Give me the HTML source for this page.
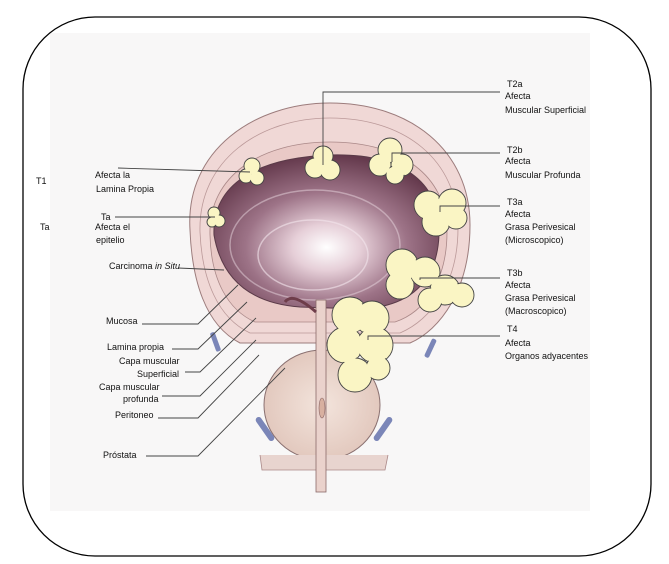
<!DOCTYPE html>
<html><head><meta charset="utf-8"><style>
html,body{margin:0;padding:0;background:#fff;}
svg{display:block;font-family:"Liberation Sans",Arial,sans-serif;}
text{font-size:9px;fill:#111;}
</style></head><body>
<svg width="669" height="564" viewBox="0 0 669 564" xmlns="http://www.w3.org/2000/svg">
<defs>
<radialGradient id="lum" cx="0.5" cy="0.6" r="0.6">
<stop offset="0" stop-color="#fff"/><stop offset="0.25" stop-color="#e6cfd8"/><stop offset="0.6" stop-color="#9d7387"/><stop offset="1" stop-color="#64394c"/>
</radialGradient>
<radialGradient id="pro" cx="0.5" cy="0.5" r="0.6">
<stop offset="0" stop-color="#f3e4dc"/><stop offset="1" stop-color="#dfc3b8"/>
</radialGradient>
</defs>
<rect x="50" y="33" width="540" height="478" fill="#f8f7f7"/>
<rect x="23" y="17" width="628" height="539" rx="72" ry="72" fill="none" stroke="#000" stroke-width="1.3"/>
<!-- bladder wall -->
<path d="M190,230 C185,150 255,103 330,103 C410,103 470,150 470,225 C470,290 440,330 410,343 L240,343 C205,325 192,280 190,230 Z" fill="#f0d8d6" stroke="#9c7c7c" stroke-width="1"/>
<path d="M200,232 C198,160 260,118 330,118 C405,118 458,160 458,228 C458,285 430,320 400,333 L250,333 C218,318 202,280 200,232 Z" fill="none" stroke="#b99" stroke-width="0.8"/>
<path d="M210,235 C208,175 262,142 330,142 C400,142 447,175 447,232 C447,280 425,312 395,322 L255,322 C228,310 211,280 210,235 Z" fill="#e9c9c6" stroke="#a88" stroke-width="0.8"/>
<!-- lumen -->
<path d="M214,235 C212,185 255,158 330,155 C400,153 441,180 439,235 C437,282 410,307 360,309 L300,307 C260,304 223,287 214,235 Z" fill="url(#lum)" stroke="#5a3a48" stroke-width="1"/>
<ellipse cx="313" cy="255" rx="55" ry="35" fill="none" stroke="#f3e6ec" stroke-width="1.5" opacity="0.6"/>
<ellipse cx="315" cy="245" rx="85" ry="55" fill="none" stroke="#e8d6de" stroke-width="1.5" opacity="0.5"/>
<!-- prostate -->
<ellipse cx="322" cy="405" rx="58" ry="55" fill="url(#pro)" stroke="#8a7070" stroke-width="1"/>
<path d="M260,455 L262,470 L385,470 L388,455" fill="#e8d4cf" stroke="#a88" stroke-width="0.8"/>
<rect x="316" y="300" width="10" height="192" fill="#ead2cc" stroke="#8a6a6a" stroke-width="0.8"/>
<ellipse cx="322" cy="408" rx="3" ry="10" fill="#d8b0a0" stroke="#866" stroke-width="0.6"/>
<path d="M285,302 C290,295 300,298 316,312" fill="none" stroke="#6e3d4a" stroke-width="3"/>
<!-- vessels -->
<rect x="213" y="332" width="5" height="20" rx="2" fill="#7b86b8" transform="rotate(-20 215 342)"/>
<rect x="428" y="338" width="5" height="20" rx="2" fill="#7b86b8" transform="rotate(25 430 348)"/>
<rect x="262" y="415" width="6" height="28" rx="3" fill="#7b86b8" transform="rotate(-35 265 429)"/>
<rect x="380" y="415" width="6" height="28" rx="3" fill="#7b86b8" transform="rotate(35 383 429)"/>
<!-- tumors -->
<g fill="#faf5c4" stroke="#444" stroke-width="0.9">
<circle cx="252" cy="166" r="8"/><circle cx="246" cy="176" r="7"/><circle cx="257" cy="178" r="7"/>
<circle cx="214" cy="213" r="6"/><circle cx="219" cy="221" r="6"/><circle cx="212" cy="222" r="5"/>
<circle cx="323" cy="156" r="10"/><circle cx="315" cy="168" r="10"/><circle cx="330" cy="170" r="10"/>
<circle cx="390" cy="150" r="12"/><circle cx="380" cy="165" r="11"/><circle cx="402" cy="165" r="11"/><circle cx="395" cy="175" r="9"/>
<circle cx="428" cy="205" r="14"/><circle cx="452" cy="203" r="14"/><circle cx="436" cy="222" r="14"/><circle cx="456" cy="218" r="11"/>
<circle cx="402" cy="265" r="16"/><circle cx="400" cy="285" r="14"/><circle cx="425" cy="272" r="15"/><circle cx="445" cy="290" r="15"/><circle cx="462" cy="295" r="12"/><circle cx="430" cy="300" r="12"/>
<circle cx="350" cy="315" r="18"/><circle cx="372" cy="318" r="17"/><circle cx="345" cy="345" r="18"/><circle cx="375" cy="345" r="18"/><circle cx="355" cy="375" r="17"/><circle cx="378" cy="368" r="12"/>
</g>
<g fill="#faf5c4">
<circle cx="252" cy="167" r="7"/><circle cx="246" cy="176" r="6"/><circle cx="257" cy="178" r="6"/>
<circle cx="214" cy="214" r="5"/><circle cx="219" cy="221" r="5"/><circle cx="212" cy="222" r="4"/>
<circle cx="323" cy="157" r="9"/><circle cx="315" cy="168" r="9"/><circle cx="330" cy="170" r="9"/>
<circle cx="390" cy="151" r="11"/><circle cx="380" cy="165" r="10"/><circle cx="402" cy="165" r="10"/><circle cx="395" cy="175" r="8"/>
<circle cx="428" cy="206" r="13"/><circle cx="452" cy="204" r="13"/><circle cx="436" cy="222" r="13"/><circle cx="456" cy="218" r="10"/>
<circle cx="402" cy="266" r="15"/><circle cx="400" cy="285" r="13"/><circle cx="425" cy="272" r="14"/><circle cx="445" cy="290" r="14"/><circle cx="462" cy="295" r="11"/><circle cx="430" cy="300" r="11"/>
<circle cx="350" cy="316" r="17"/><circle cx="372" cy="318" r="16"/><circle cx="345" cy="345" r="17"/><circle cx="375" cy="345" r="17"/><circle cx="355" cy="375" r="16"/><circle cx="378" cy="368" r="11"/>
</g>
<!-- leader lines -->
<g fill="none" stroke="#444" stroke-width="0.9">
<path d="M118,168 L250,172"/><path d="M115,217 L215,217"/><path d="M178,268 L224,270"/>
<path d="M142,324 L198,324 L238,285"/><path d="M172,349 L198,349 L247,302"/>
<path d="M185,372 L200,372 L256,318"/><path d="M162,396 L200,396 L256,340"/>
<path d="M158,418 L198,418 L259,355"/><path d="M146,456 L198,456 L285,368"/>
<path d="M323,165 L323,92 L500,92"/><path d="M392,162 L392,153 L500,153"/>
<path d="M440,212 L440,206 L500,206"/><path d="M420,280 L420,278 L500,278"/><path d="M368,340 L368,336 L500,336"/>
</g>
<!-- left labels -->
<text x="36" y="184">T1</text><text x="40" y="230">Ta</text>
<text x="95" y="178">Afecta la</text><text x="96" y="192">Lamina Propia</text>
<text x="101" y="220">Ta</text><text x="95" y="230">Afecta el</text><text x="96" y="243">epitelio</text>
<text x="109" y="269">Carcinoma <tspan font-style="italic">in Situ</tspan></text>
<text x="106" y="324">Mucosa</text>
<text x="107" y="350">Lamina propia</text>
<text x="119" y="364">Capa muscular</text><text x="137" y="377">Superficial</text>
<text x="99" y="390">Capa muscular</text><text x="123" y="402">profunda</text>
<text x="115" y="418">Peritoneo</text>
<text x="103" y="458">Próstata</text>
<!-- right labels -->
<text x="507" y="87">T2a</text><text x="505" y="99">Afecta</text><text x="505" y="113">Muscular Superficial</text>
<text x="507" y="153">T2b</text><text x="505" y="164">Afecta</text><text x="505" y="178">Muscular Profunda</text>
<text x="507" y="205">T3a</text><text x="505" y="217">Afecta</text><text x="505" y="230">Grasa Perivesical</text><text x="505" y="243">(Microscopico)</text>
<text x="507" y="276">T3b</text><text x="505" y="288">Afecta</text><text x="505" y="301">Grasa Perivesical</text><text x="505" y="314">(Macroscopico)</text>
<text x="507" y="332">T4</text><text x="505" y="346">Afecta</text><text x="505" y="359">Organos adyacentes</text>
</svg>
</body></html>
